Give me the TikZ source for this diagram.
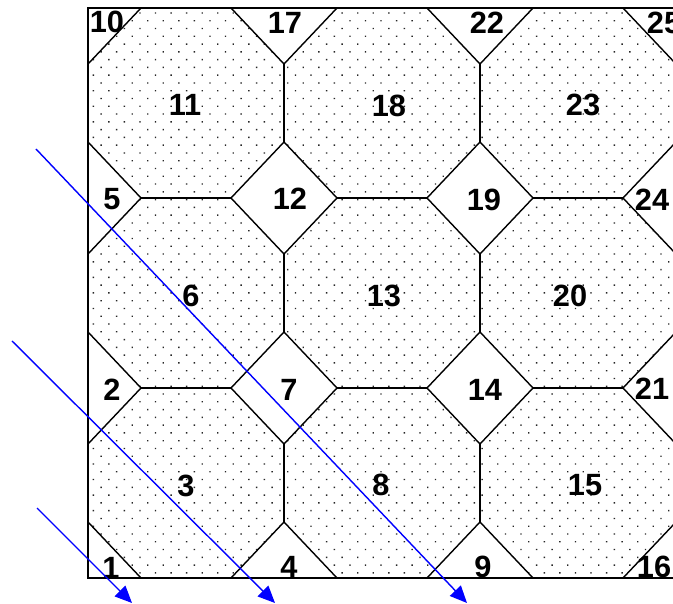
\documentclass[tikz,border=0pt]{standalone}
\usepackage{fontspec}
\setmainfont{Liberation Sans}
\usetikzlibrary{arrows.meta,patterns.meta}

\begin{document}
\begin{tikzpicture}[x=0.02cm,y=-0.02cm,
  cellno/.style={font=\fontsize{17.5}{19}\selectfont\bfseries,inner sep=0pt},
  edge/.style={line width=0.8pt},
  frame/.style={line width=1.4pt},
  ray/.style={blue,line width=0.8pt,-{Triangle[length=0.34cm,width=0.3cm]}}
]
\clip (0,0) rectangle (673,604);
% dotted octagons
\fill[pattern={Dots[distance=0.22cm,angle=45,radius=0.55pt]},pattern color=black!85] (88,8) rectangle (676,578);
% white diamonds at the grid nodes
\begin{scope}
  \clip (88,8) rectangle (676,578);
  \foreach \x in {88,284,480,676}
    \foreach \y in {8,198,388,578}
      \filldraw[edge,fill=white] (\x-53,\y) -- (\x,\y-56) -- (\x+53,\y) -- (\x,\y+56) -- cycle;
\end{scope}
\foreach \x in {284,480}
  \foreach \y in {8,198,388}
    \draw[edge] (\x,\y+56) -- (\x,\y+134);
\foreach \y in {198,388}
  \foreach \x in {88,284,480}
    \draw[edge] (\x+53,\y) -- (\x+143,\y);
\draw[frame] (88,8) rectangle (676,578);
% labels
\foreach \n/\px/\py in {1/111/568,2/112/390,3/186/486,4/289/567,5/112/199,
    6/191/296,7/289/390,8/381/485,9/483/567,10/107/22,11/185/105,12/290/199,
    13/384/296,14/485/390,15/585/485,16/654/567,17/285/23,18/389/106,
    19/484/200,20/570/296,21/652/389,22/487/23,23/583/105,24/652/200,25/664/23}
  \node[cellno] (n\n) at (\px,\py) {\n};
% rays
\coordinate (r1s) at (36,149);
\coordinate (r1e) at (467,603);
\coordinate (r2s) at (12,341);
\coordinate (r2e) at (275,603);
\coordinate (r3s) at (37,508);
\coordinate (r3e) at (132,603);
\draw[ray] (r1s) -- (r1e);
\draw[ray] (r2s) -- (r2e);
\draw[ray] (r3s) -- (r3e);
\end{tikzpicture}
\end{document}
